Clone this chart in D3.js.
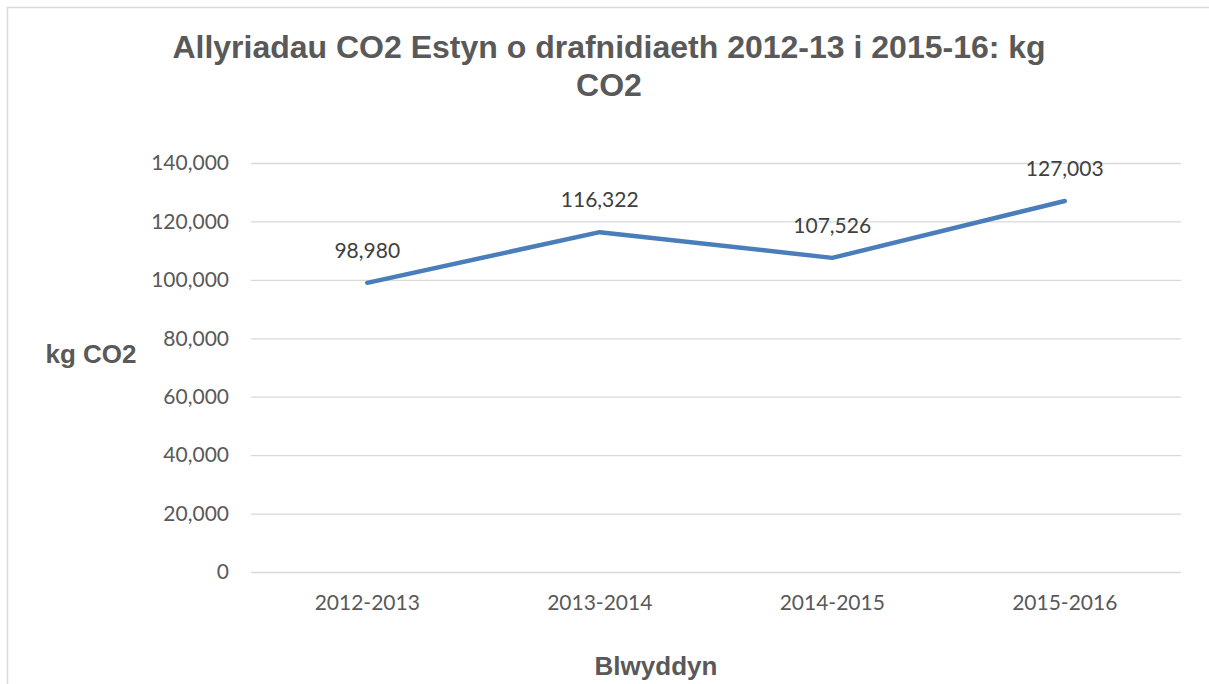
<!DOCTYPE html>
<html>
<head>
<meta charset="utf-8">
<script src="https://cdn.jsdelivr.net/npm/d3@7"></script>
<style>
  body { margin: 0; background: #fff; }
  svg { display: block; }
</style>
</head>
<body>
<svg id="chart"></svg>
<script>
/* CO2 transport emissions line chart */

const years = ['2012-2013', '2013-2014', '2014-2015', '2015-2016'];
const emissions = [98980, 116322, 107526, 127003];
const yTicks = [0, 20000, 40000, 60000, 80000, 100000, 120000, 140000];
const titleLines = ['Allyriadau CO2 Estyn o drafnidiaeth 2012-13 i 2015-16: kg', 'CO2'];

const W = 1209, H = 684;
const TEXT = '#595959';
const GRID = '#d9d9d9';
const LINE = '#4a7ebb';
const LABEL_FONT = 'Lato, "Open Sans", sans-serif';
const TITLE_FONT = '"Liberation Sans", Arial, sans-serif';

const svg = d3.select('#chart').attr('width', W).attr('height', H);

// outer chart border (right/bottom fall outside the picture)
svg.append('rect')
    .attr('x', 7.5).attr('y', 7.5)
    .attr('width', W + 10).attr('height', H + 10)
    .attr('fill', 'none').attr('stroke', GRID).attr('stroke-width', 1.5);

const plot = { left: 251, right: 1181, top: 163, bottom: 572 };

const x = d3.scaleBand().domain(years).range([plot.left, plot.right]);
const y = d3.scaleLinear().domain([0, 140000]).range([plot.bottom, plot.top]);

// gridlines
svg.append('g')
    .selectAll('line')
    .data(yTicks)
    .enter()
    .append('line')
    .attr('x1', plot.left).attr('x2', plot.right)
    .attr('y1', d => y(d) + 0.5).attr('y2', d => y(d) + 0.5)
    .attr('stroke', GRID).attr('stroke-width', 1.3);

// y axis labels
const yAxis = d3.axisLeft(y).tickValues(yTicks).tickSize(0).tickPadding(22)
    .tickFormat(d3.format(','));
svg.append('g')
    .attr('transform', `translate(${plot.left},0)`)
    .call(yAxis)
    .call(g => g.select('.domain').remove())
    .selectAll('text')
    .attr('fill', TEXT)
    .attr('font-size', '21px')
    .attr('font-family', LABEL_FONT);

// x axis labels
const xAxis = d3.axisBottom(x).tickSize(0).tickPadding(23);
svg.append('g')
    .attr('transform', `translate(0,${plot.bottom})`)
    .call(xAxis)
    .call(g => g.select('.domain').remove())
    .selectAll('text')
    .attr('fill', TEXT)
    .attr('font-size', '21px')
    .attr('font-family', LABEL_FONT);

// series line
const cx = d => x(d) + x.bandwidth() / 2;
const points = years.map((yr, i) => ({ yr, v: emissions[i] }));

svg.append('path')
    .datum(points)
    .attr('fill', 'none')
    .attr('stroke', LINE)
    .attr('stroke-width', 4.5)
    .attr('stroke-linecap', 'round')
    .attr('stroke-linejoin', 'round')
    .attr('d', d3.line().x(d => cx(d.yr)).y(d => y(d.v)));

// data labels
svg.append('g')
    .selectAll('text')
    .data(points)
    .enter()
    .append('text')
    .attr('x', d => cx(d.yr))
    .attr('y', d => y(d.v) - 25)
    .attr('text-anchor', 'middle')
    .attr('fill', '#404040')
    .attr('font-size', '21px')
    .attr('font-family', LABEL_FONT)
    .text(d => d3.format(',')(d.v));

// title
svg.append('text')
    .attr('text-anchor', 'middle')
    .attr('fill', TEXT)
    .attr('font-size', '32px')
    .attr('font-weight', '700')
    .attr('font-family', TITLE_FONT)
    .selectAll('tspan')
    .data(titleLines)
    .enter()
    .append('tspan')
    .attr('x', 609)
    .attr('y', (d, i) => 58 + i * 38)
    .text(d => d);

// axis titles
svg.append('text')
    .attr('x', 91).attr('y', 363)
    .attr('text-anchor', 'middle')
    .attr('fill', TEXT)
    .attr('font-size', '26px')
    .attr('font-weight', '700')
    .attr('font-family', TITLE_FONT)
    .text('kg CO2');

svg.append('text')
    .attr('x', 656).attr('y', 675)
    .attr('text-anchor', 'middle')
    .attr('fill', TEXT)
    .attr('font-size', '26px')
    .attr('font-weight', '700')
    .attr('font-family', TITLE_FONT)
    .text('Blwyddyn');
</script>
</body>
</html>
